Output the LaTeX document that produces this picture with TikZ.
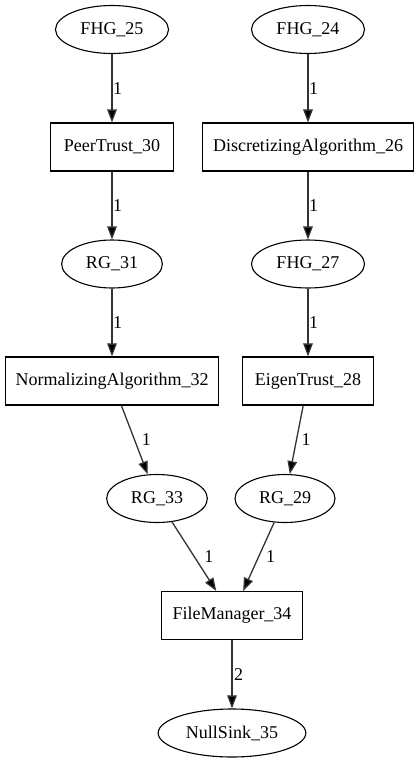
\documentclass[tikz,border=0pt]{standalone}
\usepackage{fontspec}
\setmainfont{Liberation Serif}
\usetikzlibrary{arrows.meta,shapes.geometric}
\begin{document}
\begin{tikzpicture}[x=1pt,y=-1pt,
  every node/.style={font=\fontsize{18}{22}\selectfont},
  ell/.style={draw, ellipse, line width=1.1pt, inner sep=0pt, minimum height=48pt},
  box/.style={draw, rectangle, line width=1.1pt, inner sep=0pt, minimum height=48pt},
  conn/.style={line width=1.3pt, draw={black!80}, -{Triangle[length=13pt,width=9.5pt,fill=black]}},
  lbl/.style={inner sep=0pt, anchor=west}]
\useasboundingbox (0,0) rectangle (419,763);
\node[ell, minimum width=113pt] (fhg25) at (112,29.5) {FHG\_25};
\node[ell, minimum width=113pt] (fhg24) at (308,29.5) {FHG\_24};
\node[box, minimum width=122.7pt] (pt30) at (112,147) {PeerTrust\_30};
\node[box, minimum width=211pt] (da26) at (308,147) {DiscretizingAlgorithm\_26};
\node[ell, minimum width=100.7pt] (rg31) at (112,264) {RG\_31};
\node[ell, minimum width=113pt] (fhg27) at (308,264) {FHG\_27};
\node[box, minimum width=213pt] (na32) at (112,381) {NormalizingAlgorithm\_32};
\node[box, minimum width=131pt] (et28) at (308,381) {EigenTrust\_28};
\node[ell, minimum width=100.7pt] (rg33) at (157,498.5) {RG\_33};
\node[ell, minimum width=100pt] (rg29) at (285,498.5) {RG\_29};
\node[box, minimum width=141.7pt] (fm34) at (232,615.5) {FileManager\_34};
\node[ell, minimum width=147.7pt] (ns35) at (232,733) {NullSink\_35};
\draw[conn] (fhg25) -- node[lbl, xshift=0.5pt] {1} (pt30);
\draw[conn] (fhg24) -- node[lbl, xshift=0.5pt] {1} (da26);
\draw[conn] (pt30) -- node[lbl, xshift=0.5pt] {1} (rg31);
\draw[conn] (da26) -- node[lbl, xshift=0.5pt] {1} (fhg27);
\draw[conn] (rg31) -- node[lbl, xshift=0.5pt] {1} (na32);
\draw[conn] (fhg27) -- node[lbl, xshift=0.5pt] {1} (et28);
\draw[conn] (na32) -- node[lbl, xshift=6.6pt] {1} (rg33);
\draw[conn] (et28) -- node[lbl, xshift=4.6pt] {1} (rg29);
\draw[conn] (rg33) -- node[lbl, xshift=9.6pt] {1} (fm34);
\draw[conn] (rg29) -- node[lbl, xshift=6.9pt] {1} (fm34);
\draw[conn] (fm34) -- node[lbl, xshift=1.4pt] {2} (ns35);
\end{tikzpicture}
\end{document}
